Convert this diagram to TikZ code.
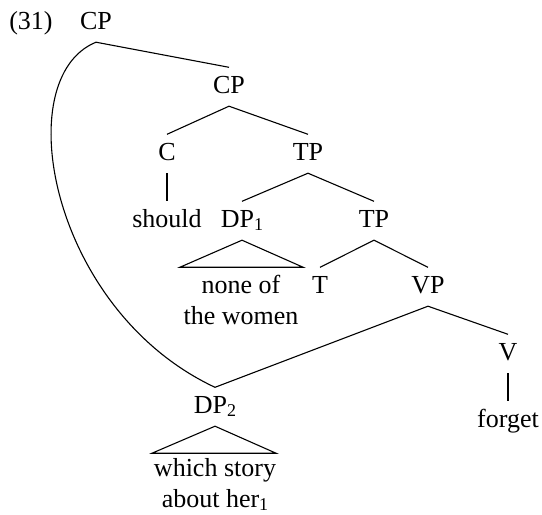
\documentclass[tikz,border=0pt]{standalone}
\usepackage{fontspec}
\setmainfont{Liberation Serif}
\usetikzlibrary{calc}
% lowered index digit, set in the text font
\newcommand{\idx}[1]{\raisebox{-3.5pt}{\fontsize{18}{18}\selectfont #1}}
\begin{document}
\begin{tikzpicture}[x=1pt,y=-1pt,
  every node/.style={font=\fontsize{26}{31}\selectfont},
  cat/.style={anchor=base, text height=17.5pt, text depth=5pt, inner xsep=1pt, inner ysep=8pt},
  % multi-line leaves sit on the baseline of their last line
  leaf/.style={anchor=base, align=center, inner sep=0pt},
  branch/.style={line width=1.1pt}]
\useasboundingbox (0,0) rectangle (542,515);

% labels
\node[cat] (ex) at (31,29) {(31)};
\node[cat] (cp0) at (96,29) {CP};
\node[cat] (cp1) at (229,93) {CP};
\node[cat] (c) at (167,160) {C};
\node[cat] (tp1) at (308,160) {TP};
\node[cat] (should) at (167,227) {should};
\node[cat] (dp1) at (242,227) {DP\idx{1}};
\node[cat] (tp2) at (374,227) {TP};
\node[leaf] (none) at (241,324) {none of\\the women};
\node[cat] (t) at (320,293) {T};
\node[cat] (vp) at (428,293) {VP};
\node[cat] (v) at (508,360) {V};
\node[cat] (forget) at (508,427) {forget};
\node[cat] (dp2) at (215,413) {DP\idx{2}};
\node[leaf] (which) at (215,507) {which story\\about her\idx{1}};

% branches
\draw[branch] (cp0.south) -- (cp1.north);
\draw[branch] (cp1.south) -- (c.north);
\draw[branch] (cp1.south) -- (tp1.north);
\draw[branch] (c.south) -- (should.north);
\draw[branch] (tp1.south) -- (dp1.north);
\draw[branch] (tp1.south) -- (tp2.north);
\draw[branch] (tp2.south) -- (t.north);
\draw[branch] (tp2.south) -- (vp.north);
\draw[branch] (vp.south) -- (dp2.north);
\draw[branch] (vp.south) -- (v.north);
\draw[branch] (v.south) -- (forget.north);

% roof triangles
\draw[branch] (dp1.south) -- ++(-62,27) -- ++(123,0) -- cycle;
\draw[branch] (dp2.south) -- ++(-63,27) -- ++(124,0) -- cycle;

% movement curve
\draw[branch] (cp0.south) .. controls (8,78) and (50,310) .. (dp2.north);
\end{tikzpicture}
\end{document}
